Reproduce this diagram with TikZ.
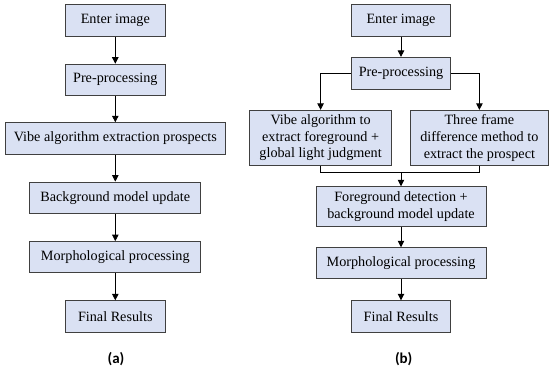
\documentclass[tikz,border=0pt]{standalone}
\usepackage{fontspec}
\setmainfont{Liberation Serif}
\newfontfamily\capfont{Carlito}
\usetikzlibrary{arrows.meta}
\definecolor{boxfill}{RGB}{218,225,243}
\definecolor{boxline}{RGB}{64,64,64}
\tikzset{
  box/.style={draw=boxline, fill=boxfill, line width=0.9pt, align=center,
    inner sep=0pt, font=\fontsize{14.2}{16.6}\selectfont},
  arr/.style={-{Triangle[length=6.5pt,width=6.5pt]}, line width=0.8pt, black},
  link/.style={line width=0.8pt, black},
  sublabel/.style={font=\capfont\bfseries\fontsize{15}{18}\selectfont}
}
\begin{document}
\begin{tikzpicture}[x=1pt,y=-1pt]
\useasboundingbox (0,0) rectangle (549,373);

% flow (a)
\node[box, minimum width=100pt, minimum height=31.3pt] (ea) at (115.3,20.4) {Enter image};
\node[box, minimum width=100pt, minimum height=31.3pt] (pa) at (115.3,79.8) {Pre-processing};
\node[box, minimum width=220.5pt, minimum height=31.6pt] (va) at (115.3,138.5) {Vibe algorithm extraction prospects};
\node[box, minimum width=171pt, minimum height=31.3pt] (ba) at (115.3,197.7) {Background model update};
\node[box, minimum width=171pt, minimum height=31.3pt] (ma) at (115.3,257.2) {Morphological processing};
\node[box, minimum width=100pt, minimum height=31.3pt] (fa) at (115.3,316.4) {Final Results};
\node[sublabel] (la) at (116,359) {(a)};

\draw[arr] (ea) -- (pa);
\draw[arr] (pa) -- (va);
\draw[arr] (va) -- (ba);
\draw[arr] (ba) -- (ma);
\draw[arr] (ma) -- (fa);

% flow (b)
\node[box, minimum width=99.4pt, minimum height=31.3pt] (eb) at (401,20.4) {Enter image};
\node[box, minimum width=99.4pt, minimum height=31.7pt] (pb) at (401,73.2) {Pre-processing};
\node[box, minimum width=141.8pt, minimum height=55.4pt] (vb) at (320.6,138) {Vibe algorithm to\\extract foreground +\\global light judgment};
\node[box, minimum width=138pt, minimum height=55.4pt] (tb) at (479.4,138) {Three frame\\difference method to\\extract the prospect};
\node[box, minimum width=170pt, minimum height=40pt] (db) at (401,206.7) {Foreground detection +\\background model update};
\node[box, minimum width=170pt, minimum height=31pt] (mb) at (401,263.2) {Morphological processing};
\node[box, minimum width=99.4pt, minimum height=31.3pt] (rb) at (401,316.4) {Final Results};
\node[sublabel] (lb) at (403.7,359) {(b)};
\coordinate (jn) at (401,172.3);

\draw[arr] (eb) -- (pb);
\draw[arr] (pb.west) -| (vb.north);
\draw[arr] (pb.east) -| (tb.north);
\draw[link] (vb.south) |- (jn) -| (tb.south);
\draw[arr] (jn) -- (db.north);
\draw[arr] (db) -- (mb);
\draw[arr] (mb) -- (rb);
\end{tikzpicture}
\end{document}
